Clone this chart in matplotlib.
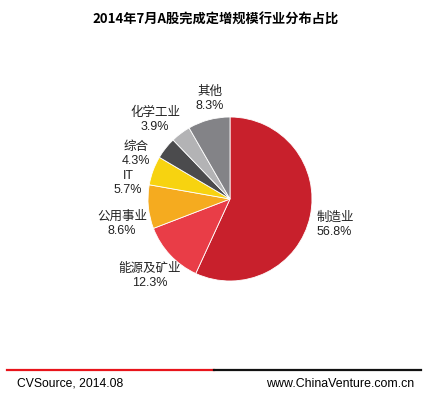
import numpy as np
import matplotlib.pyplot as plt

plt.rcParams['font.family'] = ['Liberation Sans', 'Noto Sans CJK SC', 'DejaVu Sans']

industries = ['制造业', '能源及矿业', '公用事业', 'IT', '综合', '化学工业', '其他']
shares = [56.8, 12.3, 8.6, 5.7, 4.3, 3.9, 8.3]
colors = ['#C8202C', '#E93D47', '#F5AB1F', '#F7D310', '#4B4B4D', '#B3B3B5', '#838387']

fig = plt.figure(figsize=(4.32, 3.97), dpi=100)

# pie area in pixel coords: center (230,199), radius ~82
cx, cy, R = 230, 199, 82
ax = fig.add_axes([(cx - R) / 432, 1 - (cy + R) / 397, 2 * R / 432, 2 * R / 397])
wedges, _ = ax.pie(shares, colors=colors, startangle=90, counterclock=False,
                   wedgeprops=dict(linewidth=0.6, edgecolor='white'))
ax.set_xlim(-1, 1)
ax.set_ylim(-1, 1)
ax.set_aspect('auto')

# label spots in pixels (x, y, ha)
lab_pos = [(317, 225, 'left'), (150, 276, 'center'), (122, 224, 'center'),
           (128, 183, 'center'), (136, 154, 'center'), (155, 120, 'center'),
           (210, 99, 'center')]
for name, s, (px, py, ha) in zip(industries, shares, lab_pos):
    ax.text((px - cx) / R, (cy - py) / R, '%s\n%.1f%%' % (name, s), ha=ha, va='center',
            fontsize=9, linespacing=1.3, color='#222222')

fig.text(0.5, 1 - 20 / 397, '2014年7月A股完成定增规模行业分布占比', ha='center', va='center',
         fontsize=9.5, fontweight='bold', family=['Noto Sans CJK SC', 'DejaVu Sans'])

# footer
fig.add_artist(plt.Line2D([7 / 432, 214 / 432], [1 - 370 / 397] * 2, color='#E8141B', lw=1.6))
fig.add_artist(plt.Line2D([214 / 432, 421 / 432], [1 - 370 / 397] * 2, color='#111111', lw=1.6))
fig.text(17 / 432, 1 - 384 / 397, 'CVSource, 2014.08', ha='left', va='center', fontsize=8.7)
fig.text(414 / 432, 1 - 384 / 397, 'www.ChinaVenture.com.cn', ha='right', va='center', fontsize=8.9)

fig.savefig('out.png', dpi=100)
